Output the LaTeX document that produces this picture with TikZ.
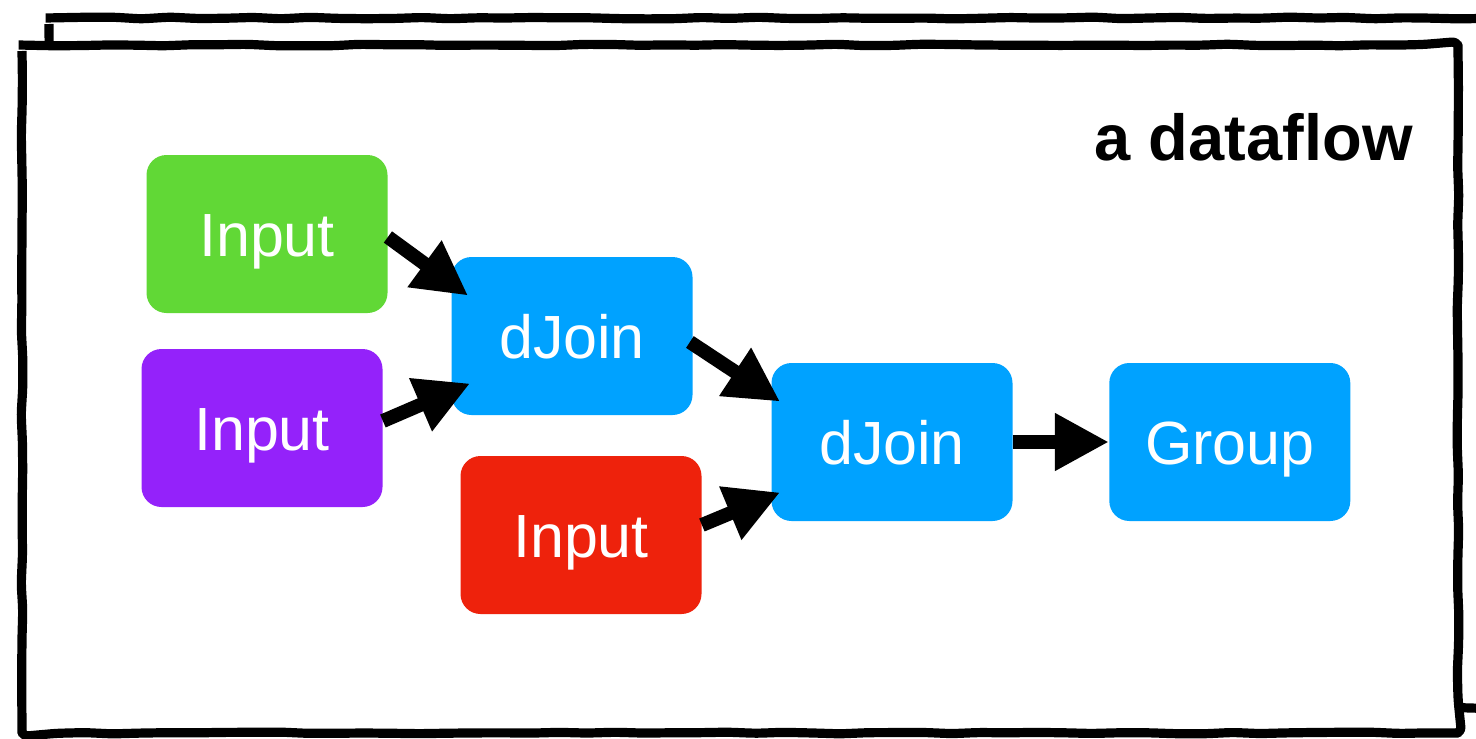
\documentclass[tikz,border=0pt]{standalone}
\usepackage{fontspec}
\setmainfont{Liberation Sans}
\usetikzlibrary{positioning,arrows.meta,decorations.pathmorphing}
\definecolor{InGreen}{HTML}{61D836}
\definecolor{InPurple}{HTML}{9422FA}
\definecolor{InRed}{HTML}{EE220C}
\definecolor{OpBlue}{HTML}{00A2FF}
\tikzstyle{Marco}=[line width=4.6pt, line join=round, rounded corners=3pt, decorate, decoration={random steps, segment length=14pt, amplitude=0.45pt}]
\tikzstyle{OpBox}=[rectangle, rounded corners=10pt, fill=OpBlue, text=white, inner sep=0pt, minimum width=120.5pt, minimum height=79pt, text height=22pt, text depth=0pt, font=\fontsize{30.5}{36}\selectfont]
\tikzstyle{InputBox}=[OpBox]
\tikzstyle{Titulo}=[inner sep=0pt, font=\fontsize{32.5}{38}\selectfont\bfseries]
\tikzstyle{Flecha}=[-{Triangle[length=27pt,width=27pt]}, line width=7pt]

\begin{document}
\begin{tikzpicture}[x=0.5pt, y=-0.5pt]
	\pgfmathsetseed{7}
	\useasboundingbox (0,0) rectangle (1476,738);
	\clip (0,0) rectangle (1476,738);

	%Marcos
	\draw[Marco] (49,18) rectangle (1520,708);
	\draw[Marco, fill=white] (22,45) rectangle (1458,733);

	\node[Titulo, anchor=base east]	(title)	at (1413,160)	{a dataflow};

	%Nodos
	\node[InputBox, fill=InGreen]	(input1)	at (267,234)	{Input};
	\node[InputBox, fill=InPurple]	(input2)	at (262,428)	{Input};
	\node[InputBox, fill=InRed]	(input3)	at (581,535)	{Input};

	\node[OpBox]	(djoin1)	at (572,336)	{dJoin};
	\node[OpBox]	(djoin2)	at (892,442)	{dJoin};
	\node[OpBox]	(group)	[right=48pt of djoin2]	{Group};

	%Lineas
	\draw[Flecha] ([yshift=-1.5pt]input1.east) -- ([xshift=8.5pt, yshift=-19.5pt]djoin1.north west);
	\draw[Flecha] ([yshift=3.5pt]input2.east) -- ([xshift=9.5pt, yshift=16pt]djoin1.south west);
	\draw[Flecha] ([xshift=-1.5pt, yshift=-3pt]djoin1.east) -- ([xshift=4.5pt, yshift=-19.5pt]djoin2.north west);
	\draw[Flecha] ([yshift=5pt]input3.east) -- ([xshift=4.5pt, yshift=14.5pt]djoin2.south west);
	\draw[Flecha] (djoin2.east) -- (group.west);

\end{tikzpicture}
\end{document}
